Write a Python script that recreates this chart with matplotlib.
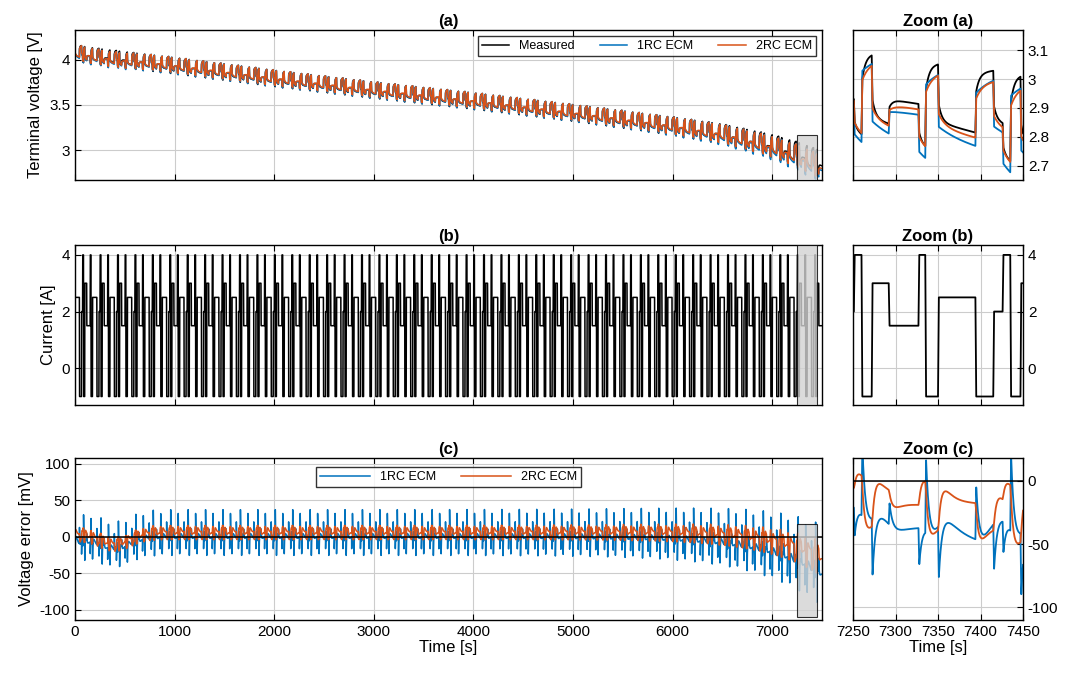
import numpy as np
import matplotlib.pyplot as plt
from matplotlib.patches import Rectangle

# one load cycle: (current [A], duration [s])
cycle = [(3.0, 20), (1.5, 35), (4.0, 8), (-1.0, 15), (2.5, 44), (-1.0, 21),
         (2.0, 11), (4.0, 9), (-1.0, 12)]
t = np.arange(0, 7501, 1.0)
pattern = np.concatenate([np.full(d, c) for c, d in cycle])
start = 77  # phase offset so that zoom window matches
current = pattern[(t.astype(int) + start) % len(pattern)]

# open circuit voltage
ocv_t = [0, 1000, 2000, 3000, 4000, 5000, 6000, 6500, 7000, 7300, 7500]
ocv_v = [4.14, 4.01, 3.87, 3.74, 3.62, 3.49, 3.35, 3.27, 3.15, 3.05, 2.96]
ocv = np.interp(t, ocv_t, ocv_v)
age = 1 + 0.7 * (t / 7500) ** 8


def ecm(r0, branches, scale, bias):
    v = np.zeros_like(t)
    states = [0.0] * len(branches)
    for k in range(len(t)):
        drop = r0 * scale[k] * current[k]
        for j, (r, tau) in enumerate(branches):
            a = np.exp(-1 / tau)
            states[j] = a * states[j] + r * scale[k] * (1 - a) * current[k]
            drop += states[j]
        v[k] = ocv[k] - drop + bias[k]
    return v


zero = np.zeros_like(t)
measured = ecm(0.022, [(0.014, 4), (0.016, 70)], age, zero)
bias = -0.016 * np.exp(-((t - 400) / 220) ** 2) - 0.045 * (t / 7500) ** 14
v1rc = ecm(0.031, [(0.021, 30)], 1 + 0.75 * (t / 7500) ** 8, bias + 0.001)
v2rc = ecm(0.024, [(0.011, 8), (0.015, 60)], 1 + 0.6 * (t / 7500) ** 8, bias + 0.003)
err1 = (v1rc - measured) * 1000
err2 = (v2rc - measured) * 1000

blue, orange = '#0072BD', '#D95319'
plt.rcParams['font.family'] = ['Arial', 'Liberation Sans', 'DejaVu Sans']
plt.rcParams['font.size'] = 11
fig = plt.figure(figsize=(10.78, 6.78), dpi=100)
W, H = 1078, 678
rows = [(30, 180), (245, 405), (458, 620)]
mains, zooms = [], []
for top, bot in rows:
    mains.append(fig.add_axes([75 / W, 1 - bot / H, 747 / W, (bot - top) / H]))
    zooms.append(fig.add_axes([853 / W, 1 - bot / H, 170 / W, (bot - top) / H]))

zwin = (7250, 7450)
m = (t >= zwin[0]) & (t <= zwin[1])
series = [
    [(measured, 'k', 'Measured'), (v1rc, blue, '1RC ECM'), (v2rc, orange, '2RC ECM')],
    [(current, 'k', None)],
    [(err1, blue, '1RC ECM'), (err2, orange, '2RC ECM')],
]
main_ylim = [(2.67, 4.33), (-1.3, 4.35), (-114, 108)]
zoom_ylim = [(2.65, 3.17), (-1.3, 4.35), (-110, 18)]
titles = ['(a)', '(b)', '(c)']
ylabels = ['Terminal voltage [V]', 'Current [A]', 'Voltage error [mV]']
yticks = [[3, 3.5, 4], [0, 2, 4], [-100, -50, 0, 50, 100]]
zyticks = [[2.7, 2.8, 2.9, 3, 3.1], [0, 2, 4], [-100, -50, 0]]

for i in range(3):
    ax, az = mains[i], zooms[i]
    for y, c, lab in series[i]:
        ax.plot(t, y, color=c, lw=1.1, label=lab)
        az.plot(t[m], y[m], color=c, lw=1.3)
    if i == 2:
        ax.axhline(0, color='k', lw=1.1)
        az.axhline(0, color='k', lw=1.1)
    ax.set_xlim(0, 7500)
    ax.set_ylim(*main_ylim[i])
    ax.set_yticks(yticks[i])
    ax.set_yticklabels([f'{v:g}' for v in yticks[i]])
    ax.set_xticks(range(0, 7001, 1000))
    ax.set_ylabel(ylabels[i], fontsize=12)
    ax.set_title(titles[i], fontsize=12, fontweight='bold', pad=3)
    zl = zoom_ylim[i]
    ax.add_patch(Rectangle((zwin[0], zl[0]), zwin[1] - zwin[0], zl[1] - zl[0],
                           facecolor='lightgray', edgecolor='k', lw=0.8, alpha=0.8, zorder=3))
    az.set_xlim(*zwin)
    az.set_ylim(*zl)
    az.set_yticks(zyticks[i])
    az.set_yticklabels([f'{v:g}' for v in zyticks[i]])
    az.set_xticks([7250, 7300, 7350, 7400, 7450])
    az.yaxis.tick_right()
    az.set_title('Zoom ' + titles[i], fontsize=12, fontweight='bold', pad=3)
    for a in (ax, az):
        a.grid(True, color='#cccccc', lw=0.8)
        a.tick_params(direction='in', top=True, length=4, labelsize=11)
        for s in a.spines.values():
            s.set_linewidth(1.0)
    if i < 2:
        ax.set_xticklabels([])
        az.set_xticklabels([])

mains[2].set_xlabel('Time [s]', fontsize=12, labelpad=1)
zooms[2].set_xlabel('Time [s]', fontsize=12, labelpad=1)
mains[0].legend(loc='upper right', ncol=3, fontsize=9, fancybox=False,
                edgecolor='k', borderpad=0.3, handlelength=2.2)
mains[2].legend(loc='upper center', bbox_to_anchor=(0.5, 0.98), ncol=2, fontsize=9,
                fancybox=False, edgecolor='k', borderpad=0.3, handlelength=4)
fig.savefig('out.png', dpi=100)
